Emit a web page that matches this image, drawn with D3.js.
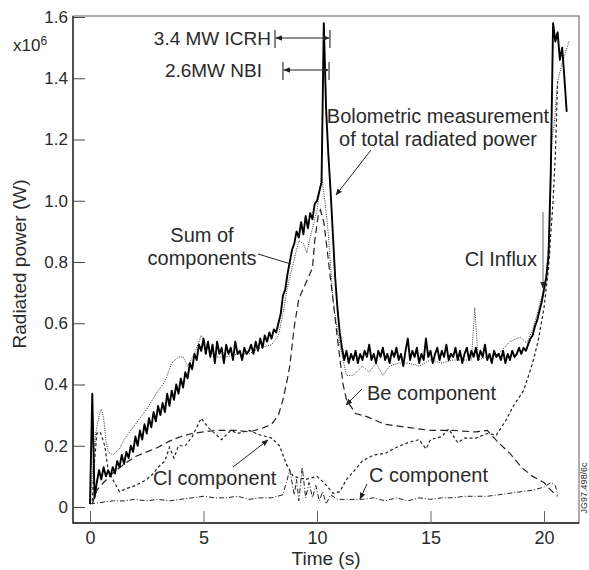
<!DOCTYPE html>
<html>
<head>
<meta charset="utf-8">
<script src="https://cdn.jsdelivr.net/npm/d3@7"></script>
<style>
  body { margin: 0; background: #fff; }
  text { font-family: "Liberation Sans", Arial, sans-serif; fill: #2a2a2a; }
</style>
</head>
<body>
<div id="chart"></div>
<script>
// bolometric trace, sampled every 0.1 s from t = 0
var boloStep = 0.1;
var bolo = [
  0.01, 0.37, 0.03, 0.08, 0.12, 0.09, 0.13, 0.10, 0.12, 0.10,
  0.13, 0.11, 0.15, 0.13, 0.17, 0.14, 0.18, 0.16, 0.20, 0.18,
  0.23, 0.20, 0.25, 0.22, 0.27, 0.24, 0.29, 0.26, 0.31, 0.28,
  0.33, 0.30, 0.34, 0.31, 0.37, 0.33, 0.38, 0.35, 0.40, 0.37,
  0.42, 0.39, 0.44, 0.42, 0.47, 0.45, 0.50, 0.48, 0.53, 0.51,
  0.55, 0.50, 0.54, 0.49, 0.53, 0.47, 0.54, 0.50, 0.52, 0.47,
  0.53, 0.50, 0.52, 0.48, 0.54, 0.50, 0.51, 0.48, 0.52, 0.50,
  0.51, 0.53, 0.50, 0.54, 0.51, 0.55, 0.52, 0.56, 0.54, 0.57,
  0.55, 0.58, 0.57, 0.60, 0.63, 0.69, 0.71, 0.76, 0.80, 0.84,
  0.86, 0.90, 0.88, 0.93, 0.89, 0.95, 0.91, 0.96, 0.94, 0.99,
  1.00, 1.03, 1.06, 1.58, 1.30, 1.15, 1.03, 0.89, 0.75, 0.65,
  0.57, 0.52, 0.48, 0.51, 0.47, 0.50, 0.48, 0.51, 0.47, 0.50,
  0.48, 0.51, 0.49, 0.53, 0.48, 0.50, 0.47, 0.51, 0.49, 0.52,
  0.48, 0.50, 0.47, 0.51, 0.49, 0.52, 0.48, 0.50, 0.46, 0.51,
  0.55, 0.48, 0.51, 0.49, 0.52, 0.47, 0.50, 0.48, 0.55, 0.49,
  0.51, 0.47, 0.50, 0.52, 0.48, 0.51, 0.49, 0.53, 0.48, 0.50,
  0.49, 0.52, 0.48, 0.51, 0.47, 0.50, 0.52, 0.48, 0.51, 0.49,
  0.52, 0.48, 0.51, 0.49, 0.53, 0.48, 0.50, 0.47, 0.51, 0.49,
  0.50, 0.48, 0.51, 0.47, 0.50, 0.48, 0.51, 0.49, 0.50, 0.52,
  0.50, 0.52, 0.51, 0.53, 0.55, 0.56, 0.59, 0.61, 0.64, 0.67,
  0.71, 0.75, 0.82, 1.10, 1.58, 1.52, 1.55, 1.46, 1.50, 1.40,
  1.29
];

// [time (s), power (MW)]
var sumComp = [[0,0.01],[0.15,0.15],[0.25,0.24],[0.4,0.30],[0.5,0.32],[0.6,0.29],[0.7,0.22],[0.8,0.18],
  [1.0,0.17],[1.3,0.19],[1.5,0.22],[2.0,0.27],[2.5,0.32],[3.0,0.38],[3.3,0.41],[3.6,0.47],[3.9,0.49],
  [4.1,0.49],[4.3,0.46],[4.6,0.50],[4.9,0.56],[5.2,0.52],[5.5,0.49],[6.0,0.49],[6.5,0.50],[7.0,0.50],
  [7.5,0.52],[8.0,0.53],[8.3,0.56],[8.5,0.63],[8.7,0.72],[8.9,0.78],[9.2,0.87],[9.4,0.86],[9.55,0.83],
  [9.7,0.88],[10.0,0.97],[10.2,1.08],[10.35,1.0],[10.5,0.89],[10.7,0.68],[10.85,0.6],[11.0,0.53],
  [11.3,0.43],[11.6,0.43],[12.0,0.46],[12.3,0.44],[12.6,0.47],[12.9,0.43],[13.2,0.46],[13.6,0.47],
  [14.0,0.47],[14.5,0.46],[15.0,0.48],[15.5,0.47],[16.0,0.48],[16.5,0.48],[16.8,0.48],[16.95,0.65],
  [17.1,0.48],[17.5,0.49],[18.0,0.50],[18.5,0.54],[18.95,0.555],[19.25,0.535],[19.5,0.58],[19.7,0.63],
  [19.95,0.70],[20.1,0.76],[20.25,0.9],[20.35,1.2],[20.45,1.25],[20.6,1.39],[20.8,1.45],[21.1,1.52]];

var beComp = [[0.1,0.01],[0.3,0.055],[0.6,0.08],[1.0,0.11],[1.5,0.14],[2.0,0.165],[2.5,0.18],[3.0,0.195],
  [3.5,0.215],[4.0,0.23],[4.5,0.24],[5.0,0.245],[5.5,0.25],[6.0,0.25],[6.5,0.25],[7.0,0.245],[7.5,0.255],
  [8.0,0.27],[8.3,0.3],[8.5,0.35],[8.7,0.42],[8.8,0.46],[9.0,0.59],[9.2,0.68],[9.5,0.73],[9.8,0.78],
  [9.9,0.87],[10.05,0.95],[10.15,0.97],[10.3,0.93],[10.45,0.84],[10.6,0.74],[10.7,0.68],[10.9,0.55],
  [11.15,0.40],[11.3,0.35],[11.7,0.305],[12.2,0.295],[13.0,0.27],[14.0,0.26],[15.0,0.25],[16.0,0.25],
  [17.0,0.245],[17.5,0.25],[18.0,0.21],[18.5,0.175],[19.0,0.13],[19.5,0.10],[20.0,0.08],[20.3,0.055],[20.6,0.035]];

var clComp = [[0.1,0.02],[0.2,0.15],[0.3,0.24],[0.45,0.245],[0.65,0.2],[0.8,0.12],[1.0,0.09],[1.3,0.05],
  [1.6,0.06],[2.0,0.07],[2.5,0.09],[2.8,0.11],[3.0,0.13],[3.3,0.15],[3.5,0.195],[3.7,0.16],[3.9,0.2],
  [4.2,0.2],[4.5,0.23],[4.9,0.29],[5.2,0.26],[5.5,0.24],[5.8,0.22],[6.2,0.25],[6.5,0.24],[7.0,0.25],
  [7.5,0.235],[8.0,0.225],[8.35,0.2],[8.65,0.14],[8.95,0.10],[9.5,0.09],[10.0,0.10],[10.3,0.08],
  [10.7,0.045],[11.0,0.05],[11.3,0.09],[11.6,0.115],[12.0,0.15],[12.5,0.17],[13.0,0.175],[13.5,0.195],
  [14.0,0.21],[14.5,0.22],[14.8,0.19],[15.0,0.22],[15.5,0.23],[15.8,0.255],[16.2,0.21],[16.5,0.225],
  [17.0,0.225],[17.5,0.24],[17.9,0.235],[18.3,0.28],[18.65,0.33],[19.1,0.38],[19.5,0.47],[19.75,0.545],
  [20.0,0.65],[20.2,0.78],[20.4,1.0],[20.5,1.15],[20.6,1.39]];

var cComp = [[0,0.01],[0.5,0.015],[1,0.02],[1.5,0.02],[2,0.025],[2.5,0.02],[3,0.025],[3.5,0.02],[4,0.025],
  [4.5,0.03],[5,0.035],[5.5,0.03],[6,0.03],[6.5,0.035],[7,0.025],[7.5,0.03],[8,0.03],[8.5,0.04],[8.8,0.12],
  [9.0,0.04],[9.1,0.09],[9.2,0.02],[9.35,0.13],[9.5,0.03],[9.65,0.08],[9.8,0.03],[9.95,0.07],[10.1,0.02],
  [10.25,0.05],[10.4,0.01],[10.6,0.04],[10.9,0.025],[11.5,0.025],[12,0.025],[12.5,0.03],[13,0.02],
  [13.5,0.03],[14,0.02],[14.5,0.03],[15,0.025],[15.5,0.03],[16,0.03],[16.5,0.035],[17,0.035],[17.5,0.035],
  [18,0.04],[18.5,0.045],[19,0.05],[19.5,0.055],[20,0.065],[20.3,0.08],[20.5,0.07],[20.6,0.04]];

var xTicks = [0, 5, 10, 15, 20];
var yTicks = [0, 0.2, 0.4, 0.6, 0.8, 1.0, 1.2, 1.4, 1.6];
var icrhWindow = [8.15, 10.57];
var nbiWindow = [8.5, 10.53];

var W = 589, H = 570;
var x = d3.scaleLinear().domain([0, 20]).range([90, 544]);
var y = d3.scaleLinear().domain([0, 1.6]).range([507, 17]);
var frameL = 73, frameR = 579, frameT = 16, frameB = 523;

var svg = d3.select("#chart").append("svg").attr("width", W).attr("height", H);

var defs = svg.append("defs");
defs.append("marker").attr("id", "head")
  .attr("viewBox", "0 0 10 10").attr("refX", 9).attr("refY", 5)
  .attr("markerWidth", 7).attr("markerHeight", 7).attr("orient", "auto-start-reverse")
  .attr("markerUnits", "userSpaceOnUse")
  .append("path").attr("d", "M0,1 L10,5 L0,9 Z").attr("fill", "#222");

// frame
svg.append("rect").attr("x", frameL).attr("y", frameT)
  .attr("width", frameR - frameL).attr("height", frameB - frameT)
  .attr("fill", "none").attr("stroke", "#777").attr("stroke-width", 1.2);
svg.append("path").attr("d", "M" + frameL + "," + frameT + "V" + frameB + "H" + frameR)
  .attr("fill", "none").attr("stroke", "#222").attr("stroke-width", 1.3);

// axes
var yAxis = d3.axisLeft(y).tickValues(yTicks).tickSizeInner(-12).tickSizeOuter(0).tickPadding(5)
  .tickFormat(function(d){ return d == 0 ? "0" : d3.format(".1f")(d) });
var gy = svg.append("g").attr("transform", "translate(" + frameL + ",0)").call(yAxis);
gy.select(".domain").remove();
gy.selectAll(".tick line").attr("stroke", "#444");
gy.selectAll(".tick text").attr("x", -5).style("font-size", "17px").style("font-family", "Liberation Sans, Arial, sans-serif").attr("fill", "#2a2a2a");

var xAxis = d3.axisBottom(x).tickValues(xTicks).tickSizeInner(-12).tickSizeOuter(0);
var gx = svg.append("g").attr("transform", "translate(0," + frameB + ")").call(xAxis);
gx.select(".domain").remove();
gx.selectAll(".tick line").attr("stroke", "#666");
gx.selectAll(".tick text").attr("y", 8).attr("dy", "0.71em").style("font-size", "18px").style("font-family", "Liberation Sans, Arial, sans-serif").attr("fill", "#2a2a2a");

svg.append("text").attr("x", 326).attr("y", 565).attr("text-anchor", "middle")
  .style("font-size", "19px").text("Time (s)");
svg.append("text").attr("transform", "translate(26,264) rotate(-90)").attr("text-anchor", "middle")
  .style("font-size", "19px").text("Radiated power (W)");
var mult = svg.append("text").attr("x", 13).attr("y", 51).style("font-size", "17px");
mult.append("tspan").text("x10");
mult.append("tspan").attr("dy", -6).style("font-size", "12px").text("6");

// curves
var line = d3.line().x(function(d){ return x(d[0]) }).y(function(d){ return y(d[1]) });
var plot = svg.append("g");

plot.append("path").datum(cComp).attr("d", line).attr("fill", "none")
  .attr("stroke", "#222").attr("stroke-width", 1).attr("stroke-dasharray", "5,2,1,2");
plot.append("path").datum(clComp).attr("d", line).attr("fill", "none")
  .attr("stroke", "#222").attr("stroke-width", 1.2).attr("stroke-dasharray", "3,2.5");
plot.append("path").datum(beComp).attr("d", line).attr("fill", "none")
  .attr("stroke", "#222").attr("stroke-width", 1.2).attr("stroke-dasharray", "7,4");
plot.append("path").datum(sumComp).attr("d", line).attr("fill", "none")
  .attr("stroke", "#333").attr("stroke-width", 1).attr("stroke-dasharray", "1,1.3");
plot.append("path").datum(bolo.map(function(v, i){ return [i * boloStep, v] })).attr("d", line)
  .attr("fill", "none").attr("stroke", "#000").attr("stroke-width", 1.9).attr("stroke-linejoin", "round");

// heating windows
function heatWindow(win, ty, label, tx) {
  var g = svg.append("g").attr("stroke", "#222").attr("stroke-width", 1.1);
  g.append("line").attr("x1", x(win[0])).attr("x2", x(win[0])).attr("y1", ty - 8).attr("y2", ty + 10);
  g.append("line").attr("x1", x(win[1])).attr("x2", x(win[1])).attr("y1", ty - 8).attr("y2", ty + 10);
  g.append("line").attr("x1", x(win[0]) + 1).attr("x2", x(win[1]) - 1).attr("y1", ty).attr("y2", ty)
    .attr("marker-start", "url(#head)").attr("marker-end", "url(#head)");
  svg.append("text").attr("x", tx).attr("y", ty + 7).attr("text-anchor", "end")
    .style("font-size", "19px").text(label);
}
heatWindow(icrhWindow, 38, "3.4 MW ICRH", 271);
heatWindow(nbiWindow, 70, "2.6MW NBI", 262);

// labels + pointers
function note(lines, tx, ty, anchor) {
  var t = svg.append("text").attr("text-anchor", anchor).style("font-size", "20px");
  lines.forEach(function(s, i){
    t.append("tspan").attr("x", tx).attr("y", ty + i * 23).text(s);
  });
}
function pointer(x1, y1, x2, y2, head, col) {
  var l = svg.append("line").attr("x1", x1).attr("y1", y1).attr("x2", x2).attr("y2", y2)
    .attr("stroke", col || "#222").attr("stroke-width", 1);
  if (head) l.attr("marker-end", "url(#head)");
}

note(["Bolometric measurement", "of total radiated power"], 438, 123, "middle");
pointer(371, 150, 336, 195, true);
note(["Sum of", "components"], 202, 242, "middle");
pointer(258, 254, 291, 264, false);
note(["Cl Influx"], 537, 266, "end");
pointer(543, 212, 543, 288, true, "#666");
note(["Be component"], 367, 400, "start");
pointer(362, 389, 346, 405, true);
note(["Cl component"], 153, 485, "start");
pointer(233, 467, 268, 440, true);
note(["C component"], 369, 482, "start");
pointer(367, 484, 360, 499, true);

svg.append("text").attr("transform", "translate(587,488) rotate(-90)").attr("text-anchor", "middle")
  .style("font-size", "9px").attr("fill", "#555").text("JG97.498/6c");
</script>
</body>
</html>
